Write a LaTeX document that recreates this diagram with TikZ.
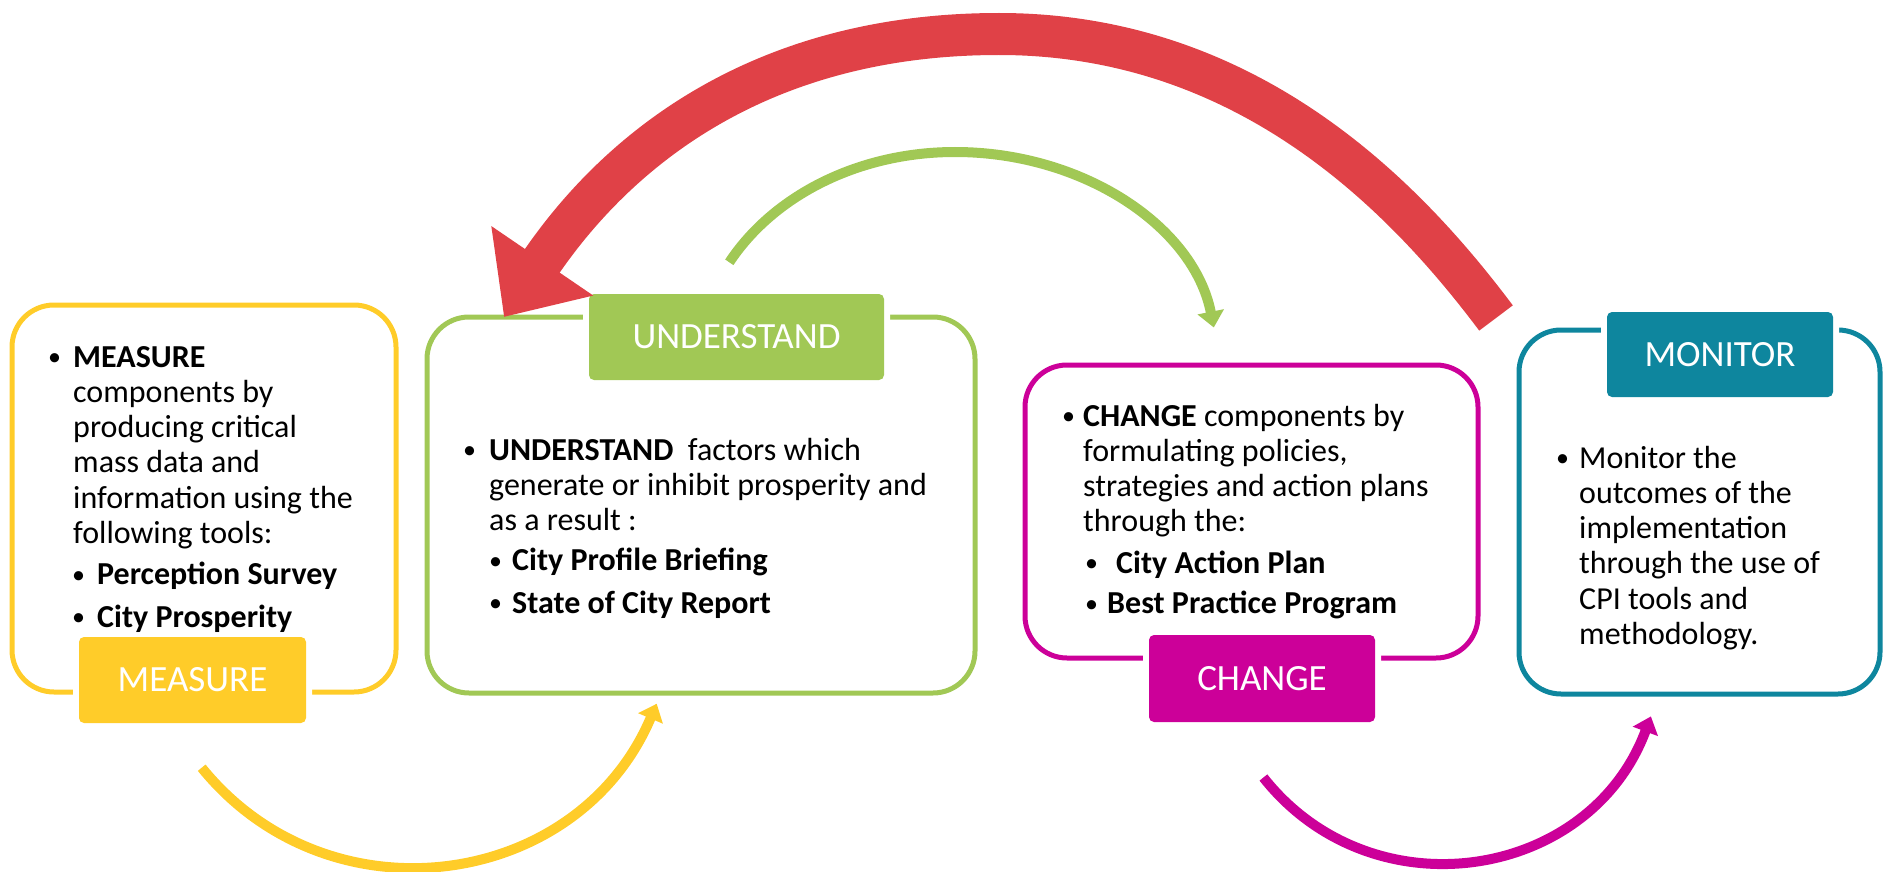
\documentclass[tikz,border=0pt]{standalone}
\usepackage{fontspec}
\setmainfont{Carlito}
\usetikzlibrary{arrows.meta}
\definecolor{cyel}{RGB}{255,204,41}
\definecolor{cgrn}{RGB}{161,200,85}
\definecolor{cmag}{RGB}{204,0,153}
\definecolor{cteal}{RGB}{14,134,158}
\definecolor{cred}{RGB}{224,65,71}
\newcommand{\bu}[1]{\makebox[#1][l]{\kern-5pt\raisebox{1.5pt}{\fontsize{26}{26}\selectfont •}}}
\begin{document}
\begin{tikzpicture}[x=1pt,y=-1pt,
  outline/.style={draw=#1, line width=5pt, rounded corners=42pt, inner sep=0pt},
  tag/.style={fill=#1, rounded corners=5pt, text=white, inner sep=0pt,
    font=\fontsize{37}{42}\selectfont, preaction={draw=white, line width=12pt}},
  body/.style={anchor=base west, inner sep=0pt, font=\fontsize{32}{35.3}\selectfont},
  flow/.style={draw=#1, line width=10pt, -{Triangle[length=16pt,width=26pt]}},
  bigflow/.style={draw=#1, line width=42pt, -{Triangle[length=68pt,width=119pt]}}
]
\useasboundingbox (0,0) rectangle (1884,872);
% outlines
\node[outline=cyel, minimum width=384pt, minimum height=387pt] (mbox) at (204,498.5) {};
\node[outline=cgrn, minimum width=548pt, minimum height=376pt] (ubox) at (701,505) {};
\node[outline=cmag, minimum width=453pt, minimum height=293pt] (cbox) at (1251.5,511.5) {};
\node[outline=cteal, minimum width=361pt, minimum height=364pt] (obox) at (1699.5,512) {};
% labels
\node[tag=cyel, minimum width=227pt, minimum height=86pt] (mlab) at (192.5,680) {MEASURE};
\node[tag=cgrn, minimum width=295pt, minimum height=86pt] (ulab) at (736.5,337) {UNDERSTAND};
\node[tag=cmag, minimum width=226pt, minimum height=87pt] (clab) at (1262,678.5) {CHANGE};
\node[tag=cteal, minimum width=226pt, minimum height=85pt] (olab) at (1720,354.5) {MONITOR};
% texts
\node[body] (mtxt) at (53,367) {\begin{minipage}[t]{330pt}
\bu{20pt}\textbf{MEASURE}\\
\hspace*{20pt}components by\\
\hspace*{20pt}producing critical\\
\hspace*{20pt}mass data and\\
\hspace*{20pt}information using the\\
\hspace*{20pt}following tools:\\[6pt]
\hspace*{24pt}\bu{20pt}\textbf{Perception Survey}\\[7pt]
\hspace*{24pt}\bu{20pt}\textbf{City Prosperity}
\end{minipage}};
\node[body] (utxt) at (468,460) {\begin{minipage}[t]{480pt}
\bu{21pt}\textbf{UNDERSTAND}\ \ factors which\\
\hspace*{21pt}generate or inhibit prosperity and\\
\hspace*{21pt}as a result :\\[5pt]
\hspace*{26pt}\bu{18pt}\textbf{City Profile Briefing}\\[7pt]
\hspace*{26pt}\bu{18pt}\textbf{State of City Report}
\end{minipage}};
\node[body] (ctxt) at (1067,426) {\begin{minipage}[t]{420pt}
\bu{16pt}\textbf{CHANGE} components by\\
\hspace*{16pt}formulating policies,\\
\hspace*{16pt}strategies and action plans\\
\hspace*{16pt}through the:\\[6pt]
\hspace*{23pt}\bu{26pt}\textbf{City Action Plan}\\[5pt]
\hspace*{23pt}\bu{17pt}\textbf{Best Practice Program}
\end{minipage}};
\node[body] (otxt) at (1561,468) {\begin{minipage}[t]{310pt}
\bu{18pt}Monitor the\\
\hspace*{18pt}outcomes of the\\
\hspace*{18pt}implementation\\
\hspace*{18pt}through the use of\\
\hspace*{18pt}CPI tools and\\
\hspace*{18pt}methodology.
\end{minipage}};
% arrow end points
\coordinate (ya) at (201.7,767.7);
\coordinate (yb) at (656.7,703.7);
\coordinate (ga) at (729.3,262.3);
\coordinate (gt) at (955,152);
\coordinate (gb) at (1213.8,327.5);
\coordinate (pa) at (1263.4,777.5);
\coordinate (pb) at (1650.9,716.4);
\coordinate (ra) at (1496,318);
\coordinate (rt) at (999,34);
\coordinate (rb) at (504,317);
% arrows
\draw[flow=cyel] (ya) .. controls (328.8,924.7) and (577.7,889.8) .. (yb);
\draw[flow=cgrn] (ga) .. controls (774.3,194.4) and (860,152) .. (gt)
   .. controls (1083,152) and (1193.9,226.5) .. (gb);
\draw[flow=cmag] (pa) .. controls (1372.1,915.1) and (1589.8,880.7) .. (pb);
\draw[bigflow=cred] (ra) .. controls (1406,198) and (1249,34) .. (rt)
   .. controls (749,34) and (611,160) .. (rb);
\end{tikzpicture}
\end{document}
